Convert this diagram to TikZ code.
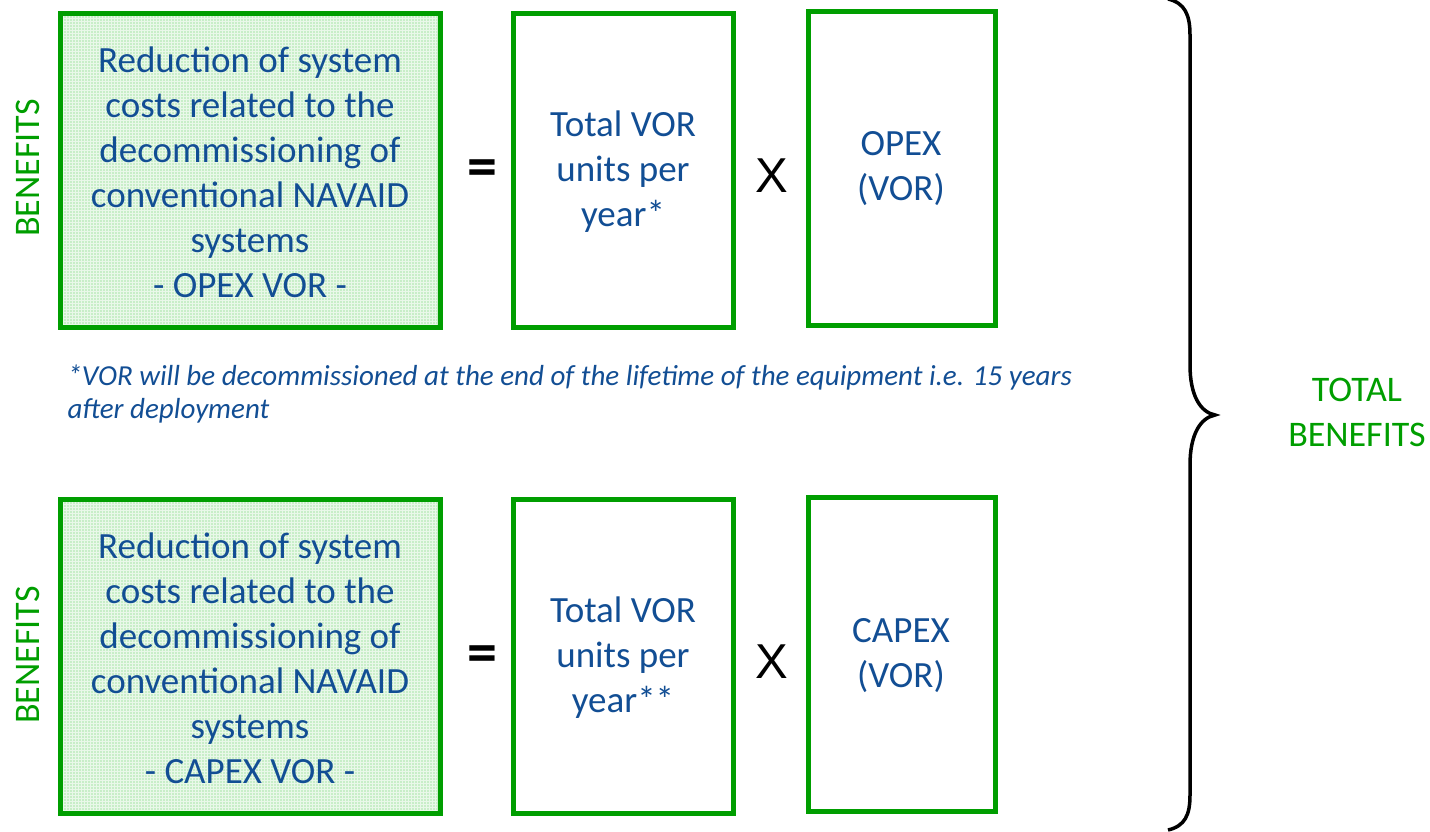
\documentclass[tikz,border=0pt]{standalone}
\usepackage{fontspec}
\setmainfont{Carlito}
\newfontfamily\opfont{Liberation Sans}
\usetikzlibrary{patterns}
\definecolor{txtblue}{RGB}{18,78,148}
\definecolor{bgreen}{RGB}{0,158,0}
\definecolor{fillgreen}{RGB}{200,238,200}
\begin{document}
\begin{tikzpicture}[x=1pt,y=-1pt,
  gbox/.style={draw=bgreen,line width=5pt,fill=fillgreen,inner sep=0pt},
  wbox/.style={draw=bgreen,line width=5pt,fill=white,inner sep=0pt},
  btxt/.style={text=txtblue,align=center,font=\fontsize{37}{45}\selectfont},
  optxt/.style={font=\opfont\fontsize{49}{49}\selectfont},
  eqtxt/.style={font=\bfseries\fontsize{60}{60}\selectfont},
  sidetxt/.style={text=bgreen,font=\fontsize{36}{40}\selectfont,rotate=90},
  brace/.style={draw=black,line width=3.5pt}]
\useasboundingbox (0,0) rectangle (1430,831);
% top row
\path[gbox] (60,13) rectangle (440,327);
\path[pattern=grid,pattern color=white!60!fillgreen] (63,16) rectangle (437,324);
\node[btxt] (g1) at (250,172) {Reduction of system\\costs related to the\\decommissioning of\\conventional NAVAID\\systems\\- OPEX VOR -};
\path[wbox] (513,13) rectangle (733,327);
\node[btxt] (t1) at (623,172) {Total VOR\\units per\\year*};
\path[wbox] (808,11) rectangle (995,325);
\node[btxt] (o1) at (901,169) {OPEX\\(VOR)};
\node[eqtxt] (eq1) at (482,173) {=};
\node[optxt] (x1) at (772,176) {X};
\node[sidetxt] (b1) at (28,168) {BENEFITS};
% footnote
\node[text=txtblue,anchor=north west,align=left,font=\itshape\fontsize{29}{33}\selectfont] (fn) at (64,361) {*VOR will be decommissioned at the end of the lifetime of the equipment i.e. 15 years\\after deployment};
% bottom row
\path[gbox] (60,499) rectangle (440,813);
\path[pattern=grid,pattern color=white!60!fillgreen] (63,502) rectangle (437,810);
\node[btxt] (g2) at (250,658) {Reduction of system\\costs related to the\\decommissioning of\\conventional NAVAID\\systems\\- CAPEX VOR -};
\path[wbox] (513,499) rectangle (733,813);
\node[btxt] (t2) at (623,658) {Total VOR\\units per\\year**};
\path[wbox] (808,497) rectangle (995,811);
\node[btxt] (o2) at (901,656) {CAPEX\\(VOR)};
\node[eqtxt] (eq2) at (482,659) {=};
\node[optxt] (x2) at (772,662) {X};
\node[sidetxt] (b2) at (28,655) {BENEFITS};
% brace
\draw[brace] (1168,-1) .. controls (1185,3) and (1190,15) .. (1190,35)
  -- (1190,365) .. controls (1190,395) and (1200,412) .. (1215,415)
  .. controls (1200,418) and (1190,435) .. (1190,465)
  -- (1190,795) .. controls (1190,815) and (1185,826) .. (1168,830);
\node[text=bgreen,align=center,font=\fontsize{36}{45}\selectfont] (tot) at (1357,412) {TOTAL\\BENEFITS};
\end{tikzpicture}
\end{document}
